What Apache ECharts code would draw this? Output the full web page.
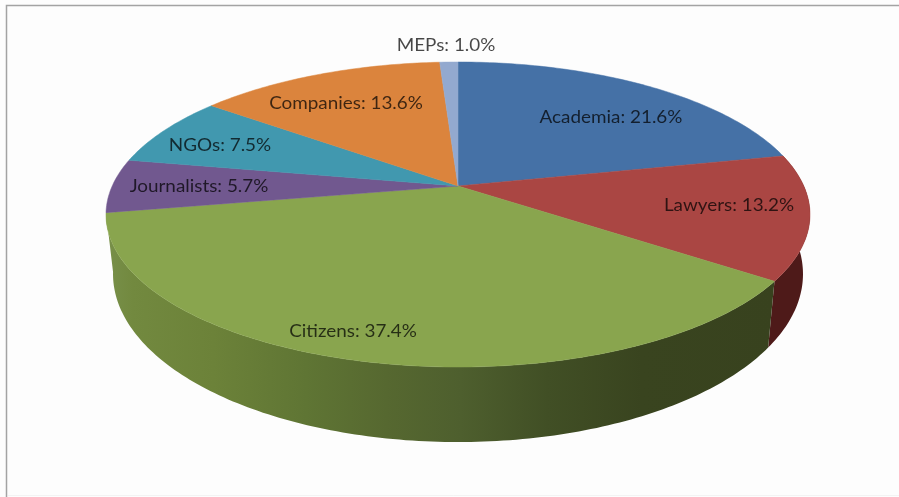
<!DOCTYPE html>
<html><head><meta charset="utf-8">
<style>html,body{margin:0;padding:0;background:#fff}#c{width:899px;height:497px}</style>
<script src="https://cdn.jsdelivr.net/npm/echarts@6/dist/echarts.min.js"></script>
</head><body><div id="c"></div>
<script>
const categories = ['Academia','Lawyers','Citizens','Journalists','NGOs','Companies','MEPs'];
const shares = [21.6,13.2,37.4,5.7,7.5,13.6,1.0];

const topColors = ['#4571a6','#aa4643','#89a54e','#71588f','#4198af','#db843d','#93a9cf'];
const labelCentres = [[611,118],[729,206],[353,332],[199,187],[220,146],[346,104],[446,46]];
const cx = 458;
const topFace = {R:345.8, a:112.4, b:186, c:-0.187};
const baseFace = {R:338.9, a:116.8, b:242.6, c:-0.187};

function project(f, r, share){
  const t = share/100*2*Math.PI, u = r*Math.sin(t), v = -r*Math.cos(t), d = 1+f.c*v;
  return [cx+f.R*u/d, (f.a*v+f.b)/d];
}
function rim(f, s0, s1){
  const n = Math.max(2, Math.ceil((s1-s0)*4)), pts=[];
  for(let i=0;i<=n;i++) pts.push(project(f,1,s0+(s1-s0)*i/n));
  return pts;
}
const greenWall = {type:'linear',x:106,y:0,x2:775,y2:0,global:true,colorStops:[
  {offset:0,color:'#78904a'},{offset:0.04,color:'#72893f'},{offset:0.16,color:'#6c8239'},
  {offset:0.3,color:'#5f7534'},{offset:0.42,color:'#566830'},{offset:0.53,color:'#4e5f2e'},
  {offset:0.66,color:'#414f25'},{offset:0.8,color:'#39441f'},{offset:1,color:'#38421e'}]};
const lawyerWall = '#4e1a19';

function starts(i){ return shares.slice(0,i).reduce((a,b)=>a+b,0); }

const chart = echarts.init(document.getElementById('c'),null,{renderer:'canvas'});
chart.setOption({
  animation:false,
  backgroundColor:'#fdfdfd',
  graphic:[
    {type:'rect',silent:true,shape:{x:6.5,y:5.5,width:1000,height:1000},
     style:{fill:'none',stroke:'#a3a3a3',lineWidth:1.5}},
    {type:'line',silent:true,shape:{x1:8,y1:495.5,x2:899,y2:495.5},
     style:{stroke:'#f3f3f3',lineWidth:1}}
  ],
  series:[{
    type:'custom',coordinateSystem:'none',silent:true,z:2,
    data:shares,
    renderItem(params,api){
      const i=params.dataIndex, s0=starts(i), s1=s0+api.value(0), children=[];
      const wallFill = i===2 ? greenWall : (i===1 ? lawyerWall : null);
      if(wallFill){
        children.push({type:'polygon',z2:1,silent:true,
          shape:{points:rim(topFace,s0,s1).concat(rim(baseFace,s0,s1).reverse())},
          style:{fill:wallFill}});
      }
      return {type:'group',children};
    }
  },{
    type:'custom',coordinateSystem:'none',silent:true,z:3,
    data:shares,
    renderItem(params,api){
      const i=params.dataIndex, s0=starts(i), s1=s0+api.value(0);
      const apex=project(topFace,0,0);
      const c=labelCentres[i];
      return {type:'group',children:[
        {type:'polygon',z2:2,shape:{points:[apex].concat(rim(topFace,s0,s1))},
          style:{fill:topColors[i],stroke:topColors[i],lineWidth:0.5}},
        {type:'text',z2:10,x:c[0],y:c[1],scaleX:1.11,
          style:{text:categories[i]+': '+api.value(0).toFixed(1)+'%',
            font:'17px Lato, "Open Sans", sans-serif',fill:'rgba(0,0,0,0.72)',
            align:'center',verticalAlign:'middle'}}
      ]};
    }
  }]
});
</script></body></html>
